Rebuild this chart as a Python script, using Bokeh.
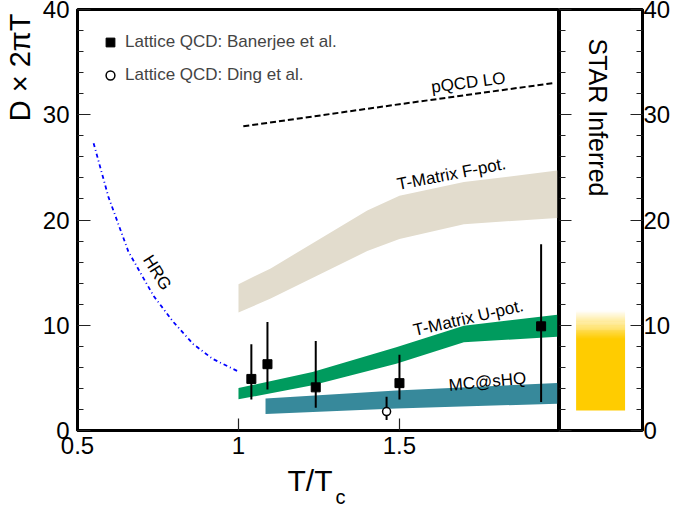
import numpy as np
from bokeh.plotting import figure
from bokeh.models import (Label, Legend, LegendItem, LinearAxis, FixedTicker,
                          SingleIntervalTicker, NumeralTickFormatter,
                          CustomJSTickFormatter, Range1d, Title)
from bokeh.layouts import row
from bokeh.embed import file_html
from bokeh.resources import INLINE

# ---------------- data ----------------
# HRG (hadron resonance gas) curve
hrg_x = [0.55, 0.596, 0.658, 0.736, 0.798, 0.86, 0.92, 1.0]
hrg_y = [27.3, 22.2, 17.0, 12.8, 10.3, 8.2, 6.8, 5.6]

# pQCD LO
pqcd_x = [1.015, 1.5, 1.975]
pqcd_y = [28.9, 31.0, 33.0]

# T-Matrix F-potential band
fpot_x = [1.0, 1.1, 1.4, 1.5, 1.7, 1.99]
fpot_hi = [13.9, 15.4, 20.9, 22.3, 23.6, 24.7]
fpot_lo = [11.2, 12.55, 17.05, 18.2, 19.6, 20.2]

# T-Matrix U-potential band
upot_x = [1.0, 1.23, 1.49, 1.70, 1.99]
upot_hi = [4.04, 5.55, 7.9, 9.96, 11.0]
upot_lo = [2.96, 4.29, 6.34, 8.39, 8.9]

# MC@sHQ band
mc_x = [1.084, 1.49, 1.99]
mc_hi = [3.03, 3.81, 4.51]
mc_lo = [1.57, 2.08, 2.55]

# Lattice QCD: Banerjee et al.
ban_x = [1.04, 1.09, 1.24, 1.50, 1.94]
ban_y = [4.9, 6.3, 4.1, 4.5, 9.9]
ban_lo = [2.95, 3.9, 2.15, 2.95, 2.7]
ban_hi = [8.2, 10.3, 8.5, 7.2, 17.7]

# Lattice QCD: Ding et al.
ding_x = [1.46]
ding_y = [1.8]
ding_lo = [1.0]
ding_hi = [3.2]

# STAR inferred range
star_lo = 1.9
star_solid_hi = 8.7
star_fade_hi = 11.4

x_ticks = [0.5, 1, 1.5]
y_ticks = [0, 10, 20, 30, 40]

# ---------------- styling ----------------
FONT = "Liberation Sans"
C_FPOT = "#e2dccd"
C_UPOT = "#009b5e"
C_MC = "#37899b"
C_STAR = (255, 204, 0)

X0, X1 = 0.5, 1.994
Y0, Y1 = 0, 40
H = 505


def prep(f):
    f.title.text = ""
    f.title.standoff = 0
    f.title.text_font_size = "0px"
    f.title.visible = False
    f.xgrid.visible = False
    f.ygrid.visible = False
    f.background_fill_color = "white"
    f.border_fill_color = "white"
    f.outline_line_color = "black"
    f.outline_line_width = 3
    f.outline_line_alpha = 1.0


def style_axis(ax, tick_in=12, minor_in=6):
    ax.axis_line_width = 3
    ax.axis_line_color = "black"
    ax.major_tick_in = tick_in
    ax.major_tick_out = 0
    ax.minor_tick_in = minor_in
    ax.minor_tick_out = 0
    ax.major_tick_line_color = "#222222"
    ax.minor_tick_line_color = "#222222"
    ax.major_tick_line_width = 1.2
    ax.minor_tick_line_width = 1.2
    ax.major_label_text_font = FONT
    ax.major_label_text_font_size = "24px"
    ax.major_label_text_color = "black"


def lab(fig, x, y, text, size, angle=0, align="left", baseline="alphabetic"):
    fig.add_layout(Label(x=x, y=y, text=text, angle=angle, angle_units="deg",
                         text_font=FONT, text_font_size=size, text_color="black",
                         text_align=align, text_baseline=baseline))


def side_title(text, size, align, offset, standoff):
    t = Title(text=text, align=align, vertical_align="top", offset=offset,
              text_font=FONT, text_font_size=size, text_font_style="normal",
              text_color="black")
    try:
        t.standoff = standoff
    except Exception:
        t.standoff = 0
    return t


# ---------------- main panel ----------------
p = figure(width=559, height=H, x_range=Range1d(X0, X1),
           y_range=Range1d(Y0, Y1), output_backend="svg", toolbar_location=None,
           min_border_left=77, min_border_right=1, min_border_top=9,
           min_border_bottom=H - 432)
prep(p)

xa = p.xaxis[0]
xa.ticker = FixedTicker(ticks=x_ticks, minor_ticks=[])
xa.formatter = NumeralTickFormatter(format="0.[0]")
style_axis(xa, tick_in=12, minor_in=0)
xa.major_label_standoff = 6

ya = p.yaxis[0]
ya.ticker = SingleIntervalTicker(interval=10, num_minor_ticks=5)
style_axis(ya, tick_in=13, minor_in=6)
ya.major_label_standoff = 8

# axis titles (titles live in the border panels, so they are not clipped)
p.add_layout(side_title("D × 2πT", "29px", "right", 4, 4), "left")
p.add_layout(side_title("T/T", "30px", "left", 210, 14), "below")
p.add_layout(side_title("c", "20px", "left", 258, -40), "below")

# bands
p.varea(x=fpot_x, y1=fpot_lo, y2=fpot_hi, fill_color=C_FPOT)
p.varea(x=upot_x, y1=upot_lo, y2=upot_hi, fill_color=C_UPOT)
p.varea(x=mc_x, y1=mc_lo, y2=mc_hi, fill_color=C_MC)

# curves
p.line(hrg_x, hrg_y, line_color="#0000ff", line_width=1.8, line_dash="4 3 1 3")
p.line(pqcd_x, pqcd_y, line_color="black", line_width=2, line_dash="6 3")

# error bars and points
p.segment(x0=ban_x, y0=ban_lo, x1=ban_x, y1=ban_hi, line_color="black", line_width=2)
p.segment(x0=ding_x, y0=ding_lo, x1=ding_x, y1=ding_hi, line_color="black", line_width=2)
sq = p.scatter(ban_x, ban_y, marker="square", size=9, fill_color="black",
               line_color="black")
oc = p.scatter(ding_x, ding_y, marker="circle", size=8, fill_color="white",
               line_color="black", line_width=1.5)

legend = Legend(items=[LegendItem(label="Lattice QCD: Banerjee et al.", renderers=[sq]),
                       LegendItem(label="Lattice QCD: Ding et al.", renderers=[oc])],
                location="top_left", margin=12, padding=10, spacing=11,
                glyph_width=22, glyph_height=22, label_standoff=4,
                label_text_font=FONT, label_text_font_size="17px",
                border_line_alpha=0, background_fill_alpha=0)
p.add_layout(legend)

lab(p, 1.599, 32.6, "pQCD LO", "17px", angle=7.4)
lab(p, 1.493, 23.36, "T-Matrix F-pot.", "17px", angle=11)
lab(p, 1.544, 9.48, "T-Matrix U-pot.", "17px", angle=13)
lab(p, 1.653, 4.28, "MC@sHQ", "17px", angle=5.4)
lab(p, 0.7475, 15.0, "HRG", "17px", angle=-58, align="center", baseline="middle")

# ---------------- STAR panel ----------------
s = figure(width=114, height=H, x_range=Range1d(0, 1), y_range=Range1d(Y0, Y1),
           output_backend="svg", toolbar_location=None, y_axis_location="right",
           min_border_left=0, min_border_right=31, min_border_top=9,
           min_border_bottom=H - 432)
prep(s)
s.xaxis.visible = False

ra = s.yaxis[0]
ra.ticker = SingleIntervalTicker(interval=10, num_minor_ticks=5)
style_axis(ra, tick_in=12, minor_in=6)
ra.major_label_standoff = 1

la = LinearAxis(ticker=SingleIntervalTicker(interval=10, num_minor_ticks=5),
                formatter=CustomJSTickFormatter(code="return ''"))
style_axis(la, tick_in=12, minor_in=6)
la.major_label_standoff = 0
s.add_layout(la, "left")

s.quad(left=0.2, right=0.79, bottom=star_lo, top=star_solid_hi,
       fill_color="#%02x%02x%02x" % C_STAR, line_color=None)
n = 30
edges = np.linspace(star_solid_hi, star_fade_hi, n + 1)
bots = edges[:-1]
tops = edges[1:] + 0.03
cols = []
for i in range(n):
    t = (i + 0.5) / n
    r = int(round(C_STAR[0] + (255 - C_STAR[0]) * t))
    g = int(round(C_STAR[1] + (255 - C_STAR[1]) * t))
    b = int(round(C_STAR[2] + (255 - C_STAR[2]) * t))
    cols.append("#%02x%02x%02x" % (r, g, b))
s.quad(left=0.2, right=0.79, bottom=bots, top=tops, fill_color=cols, line_color=None)

lab(s, 0.466, 29.74, "STAR Inferred", "25px", angle=-90, align="center")

layout = row(p, s, spacing=0)
open("out.html", "w").write(file_html(layout, INLINE))
